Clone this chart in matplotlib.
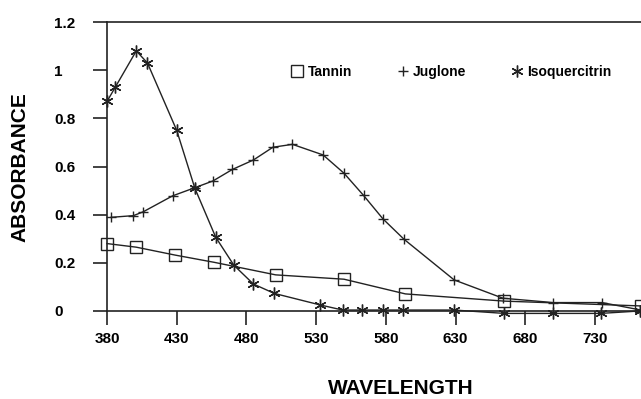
import matplotlib.pyplot as plt
from matplotlib.ticker import FixedLocator

plt.rcParams['font.family'] = ['Liberation Sans', 'DejaVu Sans']
plt.rcParams['font.weight'] = 'bold'

# Tannin
tannin_x = [380, 401, 429, 457, 501, 550, 594, 665, 763]
tannin_y = [0.28, 0.265, 0.232, 0.202, 0.15, 0.132, 0.071, 0.041, 0.021]

# Juglone
juglone_x = [383, 399, 406, 427, 443, 456, 470, 485, 499, 513, 535, 550, 564,
             578, 593, 629, 664, 700, 735, 762]
juglone_y = [0.389, 0.396, 0.412, 0.478, 0.512, 0.54, 0.588, 0.627, 0.68, 0.692,
             0.648, 0.572, 0.48, 0.382, 0.298, 0.129, 0.053, 0.035, 0.035, 0.005]

# Isoquercitrin
iso_x = [380, 386, 401, 409, 430, 443, 458, 471, 485, 500, 533, 549, 563, 578,
         592, 629, 665, 700, 734, 762]
iso_y = [0.87, 0.93, 1.08, 1.03, 0.75, 0.51, 0.306, 0.19, 0.112, 0.073, 0.025,
         0.004, 0.004, 0.004, 0.004, 0.004, -0.01, -0.01, -0.01, 0.0]

xticks = [380, 430, 480, 530, 580, 630, 680, 730]
yticks = [0, 0.2, 0.4, 0.6, 0.8, 1.0, 1.2]
ytick_labels = ['0', '0.2', '0.4', '0.6', '0.8', '1', '1.2']

fig = plt.figure(figsize=(6.41, 3.99), dpi=100)
ax = fig.add_axes([107 / 641, 88 / 399, 534 / 641, 289 / 399])

line_kw = dict(color='#222222', linewidth=1.0, markeredgecolor='#222222',
               markerfacecolor='none', markeredgewidth=1.0, clip_on=False)
ax.plot(tannin_x, tannin_y, marker='s', markersize=8.5, label='Tannin', **line_kw)
ax.plot(juglone_x, juglone_y, marker='+', markersize=7.5, label='Juglone', **line_kw)
ax.plot(iso_x, iso_y, marker=(6, 2, 0), markersize=8.5, label='Isoquercitrin', **line_kw)

ax.set_xlim(380, 763)
ax.set_ylim(0, 1.2)
ax.xaxis.set_major_locator(FixedLocator(xticks))
ax.set_xticklabels([str(v) for v in xticks])
ax.set_yticks(yticks)
ax.set_yticklabels(ytick_labels)

for s in ['left', 'bottom', 'top', 'right']:
    ax.spines[s].set_color('#222222')
    ax.spines[s].set_linewidth(1.2)
ax.spines['right'].set_linewidth(0.6)
ax.spines['right'].set_color('#bbbbbb')

ax.tick_params(axis='both', direction='out', length=10, width=1.2, color='#222222',
               labelsize=11)
ax.tick_params(axis='x', pad=5)
ax.tick_params(axis='y', pad=28)
for lab in ax.get_yticklabels():
    lab.set_horizontalalignment('left')

leg = ax.legend(loc='center', bbox_to_anchor=(0.645, 0.827), ncol=3, frameon=False,
                handlelength=0.9, handletextpad=0.3, columnspacing=3.2,
                prop={'weight': 'bold', 'size': 10})
for h in leg.get_lines():
    h.set_linestyle('none')

fig.text(20 / 641, 1 - 167 / 399, 'ABSORBANCE', rotation=90, ha='center', va='center',
         fontsize=15, fontweight='bold')
fig.text(401 / 641, 1 - 389 / 399, 'WAVELENGTH', ha='center', va='center',
         fontsize=15, fontweight='bold')

fig.savefig('out.png', dpi=100)
